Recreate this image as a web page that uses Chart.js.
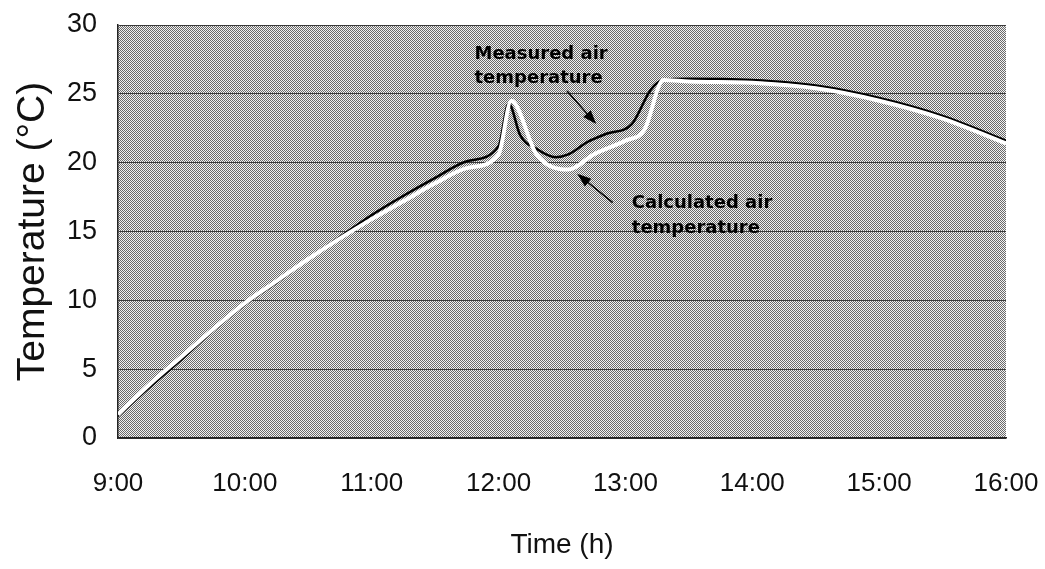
<!DOCTYPE html>
<html>
<head>
<meta charset="utf-8">
<script src="https://cdn.jsdelivr.net/npm/chart.js@4.4.1/dist/chart.umd.min.js"></script>
<style>
html,body{margin:0;padding:0;background:#fff;}
</style>
</head>
<body>
<canvas id="mychart" width="1045" height="569"></canvas>
<script>
// x axis hours, y axis ticks
const hours=[9,10,11,12,13,14,15,16];
const yTicks=[0,5,10,15,20,25,30];

// measured air temperature (black)
const measuredTime=[9.0,9.25,9.5,9.75,10.0,10.25,10.5,10.75,11.0,11.25,11.5,11.75,12.0,12.08,12.17,12.3,12.45,12.55,12.7,12.85,13.05,13.2,13.3,13.5,14.0,14.5,15.0,15.5,16.0];
const measuredTemp=[1.6,3.7,5.7,7.8,9.7,11.3,13.0,14.6,16.2,17.6,18.9,20.1,21.2,24.3,22.0,21.0,20.4,20.6,21.5,22.1,22.8,25.3,26.0,26.1,26.0,25.6,24.7,23.4,21.6];

// calculated air temperature (white)
const calcTime=[9.0,9.25,9.5,9.75,10.0,10.25,10.5,10.75,11.0,11.25,11.5,11.75,12.0,12.1,12.3,12.55,12.75,13.0,13.15,13.3,13.5,14.0,14.5,15.0,15.5,16.0];
const calcTemp=[1.7,3.9,5.9,7.9,9.8,11.4,13.0,14.5,15.9,17.2,18.5,19.6,20.6,24.5,20.6,19.5,20.6,21.6,22.4,26.0,25.9,25.8,25.4,24.5,23.2,21.4];

const labelFont='"Liberation Sans", Arial, sans-serif';
const noteFont='bold 18px "DejaVu Sans", sans-serif';

function makePattern(ctx){
	var c=document.createElement('canvas');
	c.width=2;c.height=2;
	var g=c.getContext('2d');
	g.fillStyle='#f2f2f2';g.fillRect(0,0,2,2);
	g.fillStyle='#6a6a6a';g.fillRect(0,0,1,1);g.fillRect(1,1,1,1);
	return ctx.createPattern(c,'repeat');
}

const bgPlugin={
	id:'bg',
	beforeDraw(chart){
		const {ctx,chartArea:a}=chart;
		ctx.save();
		ctx.fillStyle=makePattern(ctx);
		ctx.fillRect(a.left,a.top,a.right-a.left,a.bottom-a.top);
		ctx.restore();
	}
};

function arrow(ctx,x1,y1,x2,y2){
	var ang=Math.atan2(y2-y1,x2-x1);
	ctx.beginPath();
	ctx.moveTo(x1,y1);
	ctx.lineTo(x2-Math.cos(ang)*8,y2-Math.sin(ang)*8);
	ctx.stroke();
	ctx.beginPath();
	ctx.moveTo(x2,y2);
	ctx.lineTo(x2-14*Math.cos(ang)+5*Math.sin(ang),y2-14*Math.sin(ang)-5*Math.cos(ang));
	ctx.lineTo(x2-14*Math.cos(ang)-5*Math.sin(ang),y2-14*Math.sin(ang)+5*Math.cos(ang));
	ctx.closePath();
	ctx.fill();
}

const notePlugin={
	id:'notes',
	afterDatasetsDraw(chart){
		const ctx=chart.ctx, x=chart.scales.x, y=chart.scales.y;
		const px=v=>x.getPixelForValue(v), py=v=>y.getPixelForValue(v);
		ctx.save();
		ctx.fillStyle='#000';
		ctx.strokeStyle='#000';
		ctx.lineWidth=1.5;
		ctx.font=noteFont;
		ctx.textBaseline='top';
		ctx.fillText('Measured air',px(11.81),py(28.5));
		ctx.fillText('temperature',px(11.81),py(26.8));
		ctx.fillText('Calculated air',px(13.05),py(17.7));
		ctx.fillText('temperature',px(13.05),py(15.9));
		arrow(ctx,px(12.54),py(25.2),px(12.77),py(22.8));
		arrow(ctx,px(12.90),py(17.1),px(12.62),py(19.2));
		ctx.restore();
	}
};

const measured=measuredTime.map((t,i)=>({x:t,y:measuredTemp[i]}));
const calculated=calcTime.map((t,i)=>({x:t,y:calcTemp[i]}));

var ctx=document.getElementById('mychart').getContext('2d');
var myChart=new Chart(ctx,{
	type:'line',
	data:{
		datasets:[{
			label:'Calculated air temperature',
			data:calculated,
			borderColor:'#ffffff',
			borderWidth:4,
			pointRadius:0,
			fill:false,
			cubicInterpolationMode:'monotone',
			order:1
		},{
			label:'Measured air temperature',
			data:measured,
			borderColor:'#000000',
			borderWidth:2.5,
			pointRadius:0,
			fill:false,
			cubicInterpolationMode:'monotone',
			order:2
		}]
	},
	options:{
		responsive:false,
		animation:false,
		layout:{padding:{left:0,right:39,top:25,bottom:0}},
		plugins:{legend:{display:false},tooltip:{enabled:false}},
		scales:{
			x:{
				type:'linear',
				min:9,max:16,
				afterBuildTicks:s=>{s.ticks=hours.map(v=>({value:v}));},
				afterFit:s=>{s.height=131;s.paddingLeft=0;s.paddingRight=0;},
				grid:{display:false},
				border:{display:true,color:'#222',width:1.5},
				ticks:{
					color:'#111',
					font:{family:labelFont,size:26},
					padding:22,
					maxRotation:0,
					callback:v=>v+':00'
				},
				title:{
					display:true,
					text:'Time (h)',
					color:'#111',
					font:{family:labelFont,size:28},
					padding:{top:0,bottom:7}
				}
			},
			y:{
				min:0,max:30,
				afterBuildTicks:s=>{s.ticks=yTicks.map(v=>({value:v}));},
				afterFit:s=>{s.width=118;s.paddingTop=0;s.paddingBottom=0;},
				grid:{color:'#3a3a3a',lineWidth:1,drawTicks:false},
				border:{display:true,color:'#222',width:1.5},
				ticks:{
					color:'#111',
					font:{family:labelFont,size:27},
					padding:21
				},
				title:{
					display:true,
					text:'Temperature (°C)',
					color:'#111',
					font:{family:labelFont,size:39},
					padding:{top:10,bottom:0}
				}
			}
		}
	},
	plugins:[bgPlugin,notePlugin]
});
</script>
</body>
</html>
